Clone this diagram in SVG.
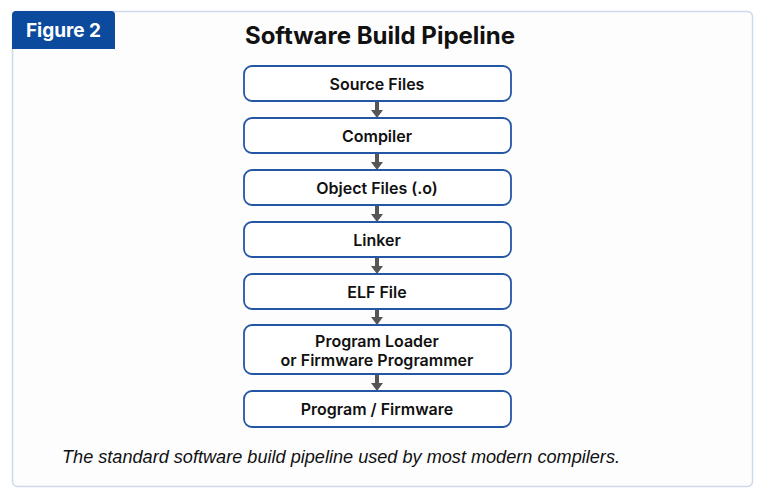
<svg xmlns="http://www.w3.org/2000/svg" width="769" height="495" viewBox="0 0 769 495">
<defs>
<style>
.node rect{fill:#ffffff;stroke:#2456a6;stroke-width:1.8}
.node text{font-family:Inter,"Liberation Sans",sans-serif;font-size:16px;font-weight:600;fill:#111;text-anchor:middle}
.conn line{stroke:#555555;stroke-width:4}
.conn path{fill:#555555}
</style>
</defs>
<rect x="0" y="0" width="769" height="495" fill="#ffffff"/>
<rect x="12.5" y="11.5" width="740" height="475" rx="5" fill="#fdfdfe" stroke="#cfd9ec" stroke-width="1.5"/>
<g id="badge">
<path d="M12,15 a4,4 0 0 1 4,-4 H111 a4,4 0 0 1 4,4 V49 H12 Z" fill="#0b4a9c"/>
<text x="63.5" y="37" font-family="Inter,'Liberation Sans',sans-serif" font-size="19" font-weight="700" fill="#ffffff" text-anchor="middle">Figure 2</text>
</g>
<text id="title" x="380" y="44" font-family="Inter,'Liberation Sans',sans-serif" font-size="24" font-weight="700" fill="#111" text-anchor="middle">Software Build Pipeline</text>
<g class="conn" id="connectors">
<line x1="377" y1="101" x2="377" y2="111"/><path d="M371,110 H383 L377,118 Z"/>
<line x1="377" y1="153" x2="377" y2="163"/><path d="M371,162 H383 L377,170 Z"/>
<line x1="377" y1="205" x2="377" y2="215"/><path d="M371,214 H383 L377,222 Z"/>
<line x1="377" y1="257" x2="377" y2="267"/><path d="M371,266 H383 L377,274 Z"/>
<line x1="377" y1="309" x2="377" y2="318"/><path d="M371,317 H383 L377,325 Z"/>
<line x1="377" y1="374" x2="377" y2="384"/><path d="M371,383 H383 L377,391 Z"/>
</g>
<g class="node" id="n1"><rect x="244" y="66" width="267" height="35" rx="8"/><text x="377" y="89.5">Source Files</text></g>
<g class="node" id="n2"><rect x="244" y="118" width="267" height="35" rx="8"/><text x="377" y="141.5">Compiler</text></g>
<g class="node" id="n3"><rect x="244" y="170" width="267" height="35" rx="8"/><text x="377" y="193.5">Object Files (.o)</text></g>
<g class="node" id="n4"><rect x="244" y="222" width="267" height="35" rx="8"/><text x="377" y="245.5">Linker</text></g>
<g class="node" id="n5"><rect x="244" y="274" width="267" height="35" rx="8"/><text x="377" y="297.5">ELF File</text></g>
<g class="node" id="n6"><rect x="244" y="325" width="267" height="49" rx="8"/><text x="377" y="347">Program Loader</text><text x="377" y="366">or Firmware Programmer</text></g>
<g class="node" id="n7"><rect x="244" y="391" width="267" height="36" rx="8"/><text x="377" y="415">Program / Firmware</text></g>
<text id="caption" x="62" y="463" font-family="'Liberation Sans',Arial,sans-serif" font-size="18" font-style="italic" fill="#111" textLength="558" lengthAdjust="spacingAndGlyphs">The standard software build pipeline used by most modern compilers.</text>
</svg>
